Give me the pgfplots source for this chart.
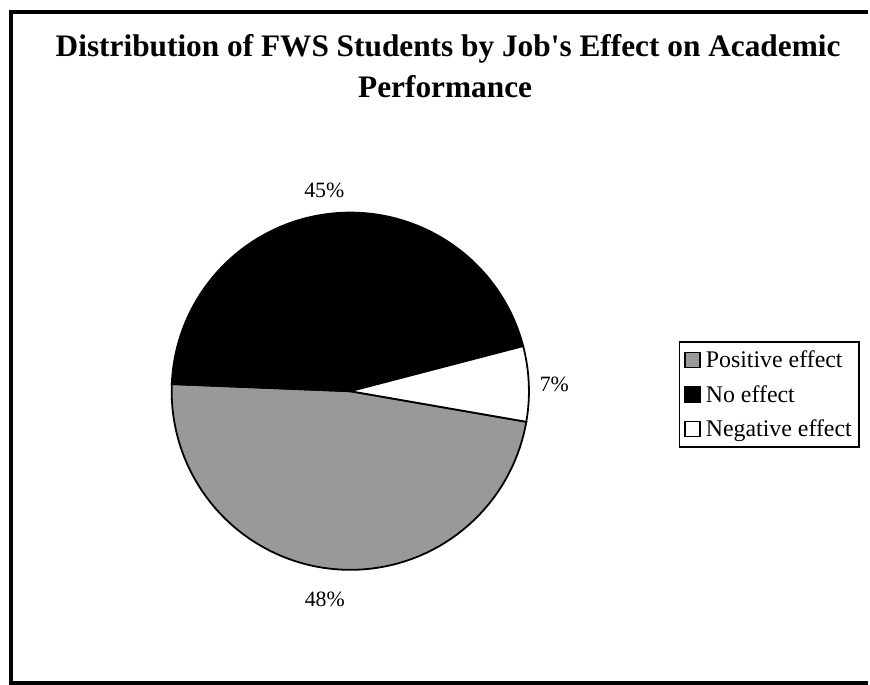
\documentclass[border=0pt]{standalone}
\usepackage{fontspec}
\setmainfont{Liberation Serif}
\usepackage{pgfplots}
\pgfplotsset{compat=1.18}
\definecolor{piegray}{HTML}{999999}
% data (percent of FWS students)
\def\vPos{47.9}
\def\vNo{45.3}
\def\vNeg{6.8}
\def\startang{177.7}
\def\cx{351}
\def\cy{294}
\def\pieR{179}
\pgfmathsetmacro\aA{\startang}
\pgfmathsetmacro\aB{\aA+3.6*\vPos}
\pgfmathsetmacro\aC{\aB+3.6*\vNeg}
\pgfmathsetmacro\aD{\aC+3.6*\vNo}
\begin{document}
\begin{tikzpicture}
\begin{axis}[
  x=1bp, y=1bp, xmin=0, xmax=870, ymin=0, ymax=686,
  hide axis, clip=false,
  legend image code/.code={\draw[#1, draw=black, line width=1.2bp] (0bp,-7.5bp) rectangle (15bp,7.5bp); \path (18bp,0bp);},
  legend style={at={(axis cs:680,344)}, anchor=north west, draw=black, line width=1.5bp,
    font=\fontsize{24}{26}\selectfont, row sep=12bp, inner xsep=5bp, inner ysep=7bp},
  legend cell align=left,
]
\path (0,0) rectangle (870,686);
\addplot[fill=piegray, draw=black, line width=1.8bp, domain=\aA:\aB, samples=120, variable=\t]
  ({\cx+\pieR*cos(\t)}, {\cy+\pieR*sin(\t)}) -- (\cx,\cy) -- cycle;
\addlegendentry{Positive effect}
\addplot[fill=black, draw=black, line width=1.8bp, domain=\aC:\aD, samples=120, variable=\t]
  ({\cx+\pieR*cos(\t)}, {\cy+\pieR*sin(\t)}) -- (\cx,\cy) -- cycle;
\addlegendentry{No effect}
\addplot[fill=white, draw=black, line width=1.8bp, domain=\aB:\aC, samples=40, variable=\t]
  ({\cx+\pieR*cos(\t)}, {\cy+\pieR*sin(\t)}) -- (\cx,\cy) -- cycle;
\addlegendentry{Negative effect}
\node[font=\fontsize{22}{26}\selectfont] at (325,495.5) {45\%};
\node[font=\fontsize{22}{26}\selectfont] at (555.5,301.3) {7\%};
\node[font=\fontsize{22}{26}\selectfont] at (325.5,85) {48\%};
\node[font=\fontsize{31.5}{36}\bfseries, anchor=base] at (449,629) {Distribution of FWS Students by Job\textquotesingle s Effect on Academic};
\node[font=\fontsize{31.5}{36}\bfseries, anchor=base] at (446,588) {Performance};
\draw[line width=3.5bp, line join=miter] (870,674) -- (11,674) -- (11,1.75) -- (870,1.75);
\end{axis}
\end{tikzpicture}
\end{document}
